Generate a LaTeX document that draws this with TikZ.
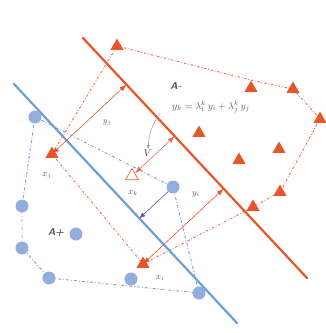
\documentclass[tikz,border=0pt]{standalone}
\usepackage{amsmath,amssymb}
\usepackage{tikz}
\usetikzlibrary{arrows.meta,positioning,calc,shapes.geometric,backgrounds}
\usepackage{xcolor}
\definecolor{negred}{HTML}{E8552B}
\definecolor{posline}{HTML}{6E9FD6}
\definecolor{posdot}{HTML}{93AEDD}
\definecolor{hullred}{HTML}{EC6F58}
\definecolor{hullblue}{HTML}{7F9ED6}
\definecolor{normal}{HTML}{6A4FC2}
\definecolor{muted}{HTML}{5A5A5A}
\tikzset{
  negpt/.style={regular polygon,regular polygon sides=3,fill=negred,inner sep=0pt,minimum size=15pt},
  negopen/.style={regular polygon,regular polygon sides=3,draw=negred,semithick,fill=white,inner sep=0pt,minimum size=15pt},
  pospt/.style={circle,fill=posdot,inner sep=0pt,minimum size=13pt},
  plane/.style={line width=2.2pt,line cap=round},
  hullneg/.style={draw=hullred,line width=0.9pt,dash pattern=on 2.5pt off 1.8pt on 0.8pt off 1.8pt},
  hullpos/.style={draw=hullblue,line width=0.9pt,dash pattern=on 3pt off 2pt on 0.9pt off 2pt},
  dist/.style={{Latex[length=7pt,width=5pt]}-{Latex[length=7pt,width=5pt]},draw=negred,semithick},
  labelstyle/.style={font=\small,text=muted,inner sep=0.5pt}
}
\begin{document}
\begin{tikzpicture}[x=1pt,y=-1pt]
  \useasboundingbox (0,0) rectangle (326,333);
  % separating planes
  \coordinate (n1) at (83,38);
  \coordinate (n2) at (307,278);
  \coordinate (p1) at (14,84);
  \coordinate (p2) at (237,323);
  % class A- points
  \node[negpt] (t1) at (117,46) {};
  \node[negpt] (t2) at (251,88) {};
  \node[negpt] (t3) at (293,89) {};
  \node[negpt] (t4) at (320,119) {};
  \node[negpt] (t5) at (199,133) {};
  \node[negpt] (t6) at (279,149) {};
  \node[negpt] (t7) at (239,160) {};
  \node[negpt] (t11) at (280,192) {};
  \node[negpt] (t10) at (253,207) {};
  \node[negpt] (tj) at (52,154) {};
  \node[negpt] (ti) at (143,264) {};
  \node[negopen] (tk) at (132,176) {};
  % class A+ points
  \node[pospt] (c1) at (35,117) {};
  \node[pospt] (c2) at (22,206) {};
  \node[pospt] (c3) at (76,234) {};
  \node[pospt] (c4) at (22,248) {};
  \node[pospt] (c5) at (49,278) {};
  \node[pospt] (c6) at (131,279) {};
  \node[pospt] (c7) at (199,293) {};
  \node[pospt] (c8) at (173,187) {};
  \begin{scope}[on background layer]
    \draw[hullneg] (t1.center) -- (t2.north) -- (t3.center) -- (t4.center) -- (t11.center) -- (t10.center) -- (ti.center) -- (tj.center) -- (t1.center);
    \draw[hullpos] (c1.center) -- (c2.center) -- (c4.center) -- (c5.center) -- (c7.center) -- (c8.center) -- (c1.center);
    \draw[plane,draw=negred] (n1) -- (n2);
    \draw[plane,draw=posline] (p1) -- (p2);
  \end{scope}
  % distances to the plane
  \coordinate (fj) at ($(n1)!(tj.center)!(n2)$);
  \coordinate (fi) at ($(n1)!(ti.center)!(n2)$);
  \coordinate (fk) at ($(n1)!(tk.center)!(n2)$);
  \coordinate (fc) at ($(p1)!(c8.center)!(p2)$);
  \draw[dist] (tj.center) -- (fj);
  \draw[dist] (ti.center) -- (fi);
  \draw[dist,draw=hullred] (tk) -- (fk);
  \draw[-{Latex[length=6pt,width=5pt]},draw=normal,semithick] (c8) -- (fc);
  % labels
  \node[labelstyle] (yj) at (107,123) {$y_j$};
  \node[labelstyle] (yi) at (196,194) {$y_i$};
  \node[labelstyle] (xj) at (47,176) {$x_j$};
  \node[labelstyle] (xi) at (160,278) {$x_i$};
  \node[labelstyle] (xk) at (133,193) {$x_k$};
  \node[labelstyle,font=\sffamily\bfseries\itshape] (aneg) at (176,86) {A-};
  \node[labelstyle,font=\sffamily\bfseries\itshape] (apos) at (56,233) {A+};
  \node[labelstyle,font=\normalsize] (eq) at (211,107) {$y_k=\lambda^k_i\,y_i+\lambda^k_j\,y_j$};
  \node[labelstyle,font=\normalsize,text=black!75] (v) at (148,153) {$V$};
  \coordinate (vs) at (160,113);
  \draw[-{Latex[length=4pt,width=3pt]},draw=black!45,thin] (vs) to[bend right=15] (v.north);
\end{tikzpicture}
\end{document}
